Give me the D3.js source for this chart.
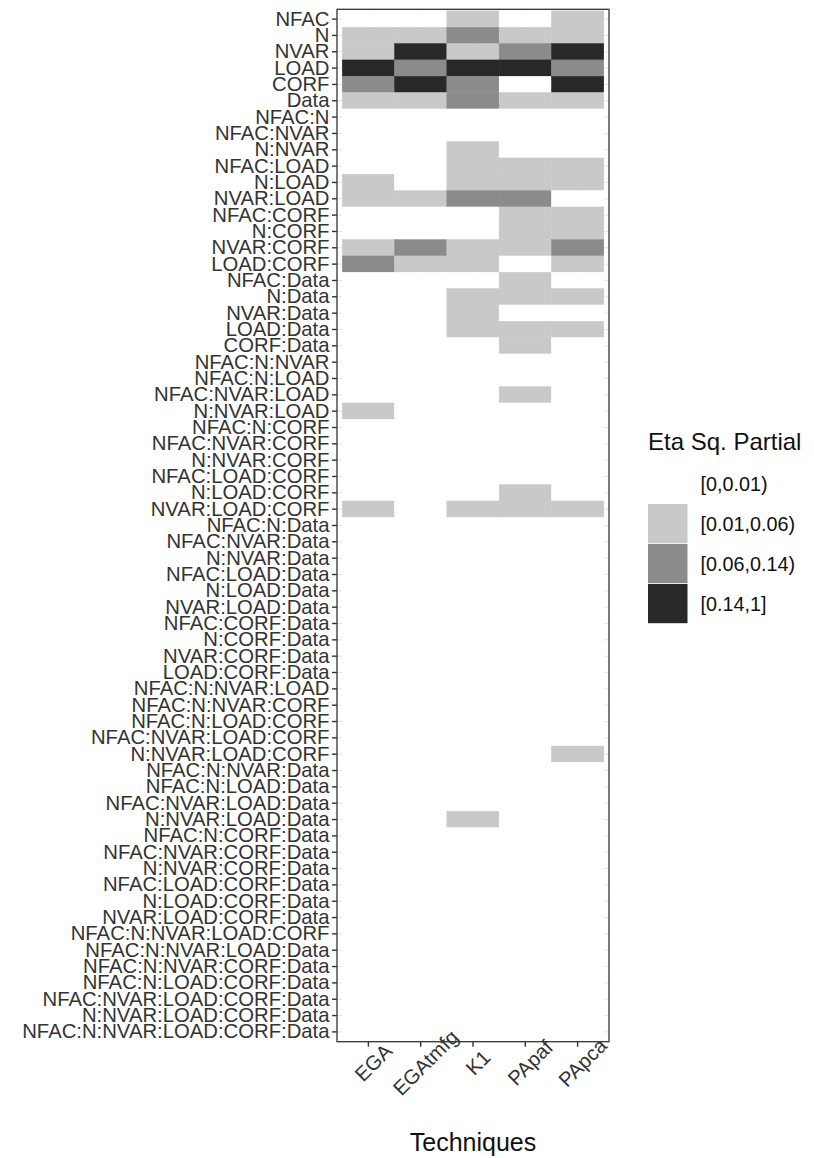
<!DOCTYPE html>
<html>
<head>
<meta charset="utf-8">
<script src="https://cdn.jsdelivr.net/npm/d3@7"></script>
<style>
  body { margin: 0; background: #fff; }
  svg { display: block; font-family: "Liberation Sans", Arial, sans-serif; }
</style>
</head>
<body>
<svg id="chart" width="814" height="1158"></svg>
<script>
// terms of the anova, top to bottom
const terms = [
  "NFAC", "N", "NVAR", "LOAD", "CORF", "Data",
  "NFAC:N", "NFAC:NVAR", "N:NVAR", "NFAC:LOAD", "N:LOAD", "NVAR:LOAD",
  "NFAC:CORF", "N:CORF", "NVAR:CORF", "LOAD:CORF",
  "NFAC:Data", "N:Data", "NVAR:Data", "LOAD:Data", "CORF:Data",
  "NFAC:N:NVAR", "NFAC:N:LOAD", "NFAC:NVAR:LOAD", "N:NVAR:LOAD",
  "NFAC:N:CORF", "NFAC:NVAR:CORF", "N:NVAR:CORF", "NFAC:LOAD:CORF",
  "N:LOAD:CORF", "NVAR:LOAD:CORF",
  "NFAC:N:Data", "NFAC:NVAR:Data", "N:NVAR:Data", "NFAC:LOAD:Data",
  "N:LOAD:Data", "NVAR:LOAD:Data", "NFAC:CORF:Data", "N:CORF:Data",
  "NVAR:CORF:Data", "LOAD:CORF:Data",
  "NFAC:N:NVAR:LOAD", "NFAC:N:NVAR:CORF", "NFAC:N:LOAD:CORF",
  "NFAC:NVAR:LOAD:CORF", "N:NVAR:LOAD:CORF",
  "NFAC:N:NVAR:Data", "NFAC:N:LOAD:Data", "NFAC:NVAR:LOAD:Data",
  "N:NVAR:LOAD:Data", "NFAC:N:CORF:Data", "NFAC:NVAR:CORF:Data",
  "N:NVAR:CORF:Data", "NFAC:LOAD:CORF:Data", "N:LOAD:CORF:Data",
  "NVAR:LOAD:CORF:Data", "NFAC:N:NVAR:LOAD:CORF", "NFAC:N:NVAR:LOAD:Data",
  "NFAC:N:NVAR:CORF:Data", "NFAC:N:LOAD:CORF:Data", "NFAC:NVAR:LOAD:CORF:Data",
  "N:NVAR:LOAD:CORF:Data", "NFAC:N:NVAR:LOAD:CORF:Data"
];

const techniques = ["EGA", "EGAtmfg", "K1", "PApaf", "PApca"];

const levels = ["[0,0.01)", "[0.01,0.06)", "[0.06,0.14)", "[0.14,1]"];

// effect size class (index into levels) for each term, per technique
const EGA = [
  0,1,1,3,2,1, 0,0,0,0,1,1, 0,0,1,2, 0,0,0,0,0,
  0,0,0,1, 0,0,0,0,0,1,
  0,0,0,0,0,0,0,0,0,0,
  0,0,0,0,0,
  0,0,0,0,0,0,0,0,0,0,
  0,0,0,0,0,0,0
];
const EGAtmfg = [
  0,1,3,2,3,1, 0,0,0,0,0,1, 0,0,2,1, 0,0,0,0,0,
  0,0,0,0, 0,0,0,0,0,0,
  0,0,0,0,0,0,0,0,0,0,
  0,0,0,0,0,
  0,0,0,0,0,0,0,0,0,0,
  0,0,0,0,0,0,0
];
const K1 = [
  1,2,1,3,2,2, 0,0,1,1,1,2, 0,0,1,1, 0,1,1,1,0,
  0,0,0,0, 0,0,0,0,0,1,
  0,0,0,0,0,0,0,0,0,0,
  0,0,0,0,0,
  0,0,0,1,0,0,0,0,0,0,
  0,0,0,0,0,0,0
];
const PApaf = [
  0,1,2,3,0,1, 0,0,0,1,1,2, 1,1,1,0, 1,1,0,1,1,
  0,0,1,0, 0,0,0,0,1,1,
  0,0,0,0,0,0,0,0,0,0,
  0,0,0,0,0,
  0,0,0,0,0,0,0,0,0,0,
  0,0,0,0,0,0,0
];
const PApca = [
  1,1,3,2,3,1, 0,0,0,1,1,0, 1,1,2,1, 0,1,0,1,0,
  0,0,0,0, 0,0,0,0,0,1,
  0,0,0,0,0,0,0,0,0,0,
  0,0,0,0,1,
  0,0,0,0,0,0,0,0,0,0,
  0,0,0,0,0,0,0
];

const fills = ["#ffffff", "#c9c9c9", "#8b8b8b", "#282828"];

const seriesByTech = { EGA, EGAtmfg, K1, PApaf, PApca };

const cells = [];
techniques.forEach(t => {
  seriesByTech[t].forEach((v, i) => cells.push({ tech: t, term: terms[i], level: levels[v] }));
});

const svg = d3.select("#chart");

const panel = { left: 337, right: 609, top: 9.3, bottom: 1041.7 };
const axisFont = "20.3px";
const axisColor = "#333";

const x = d3.scaleBand()
  .domain(techniques)
  .range([panel.left, panel.right])
  .paddingInner(0)
  .paddingOuter(0.1);

const y = d3.scaleBand()
  .domain(terms)
  .range([panel.top, panel.bottom])
  .paddingInner(0)
  .paddingOuter(0.1);

const color = d3.scaleOrdinal().domain(levels).range(fills);

// grid lines (only the bits at the panel edges end up visible)
const grid = svg.append("g");
grid.selectAll("line.h").data(terms).enter().append("line")
  .attr("x1", panel.left).attr("x2", panel.right)
  .attr("y1", d => y(d) + y.bandwidth() / 2)
  .attr("y2", d => y(d) + y.bandwidth() / 2)
  .attr("stroke", "#e6e6e6").attr("stroke-width", 1);
grid.selectAll("line.v").data(techniques).enter().append("line")
  .attr("y1", panel.top).attr("y2", panel.bottom)
  .attr("x1", d => x(d) + x.bandwidth() / 2)
  .attr("x2", d => x(d) + x.bandwidth() / 2)
  .attr("stroke", "#e6e6e6").attr("stroke-width", 1);

// tiles (stroke in the same colour hides the anti-aliasing seams)
svg.append("g").selectAll("rect").data(cells).enter().append("rect")
  .attr("x", d => x(d.tech))
  .attr("y", d => y(d.term))
  .attr("width", x.bandwidth())
  .attr("height", y.bandwidth())
  .attr("fill", d => color(d.level))
  .attr("stroke", d => color(d.level))
  .attr("stroke-width", 0.5);

// panel border
svg.append("rect")
  .attr("x", panel.left).attr("y", panel.top)
  .attr("width", panel.right - panel.left)
  .attr("height", panel.bottom - panel.top)
  .attr("fill", "none").attr("stroke", "#333").attr("stroke-width", 1.3);

// y axis
const yAxis = svg.append("g")
  .attr("transform", "translate(" + panel.left + ",0)")
  .call(d3.axisLeft(y).tickSize(5).tickPadding(2.5));
yAxis.select(".domain").remove();
yAxis.selectAll(".tick line").attr("stroke", "#333").attr("stroke-width", 1.4);
yAxis.selectAll(".tick text")
  .style("font-size", axisFont)
  .attr("fill", axisColor)
  .attr("font-family", "Liberation Sans, Arial, sans-serif");

// x axis
const xAxis = svg.append("g")
  .attr("transform", "translate(0," + panel.bottom + ")")
  .call(d3.axisBottom(x).tickSize(5).tickFormat(""));
xAxis.select(".domain").remove();
xAxis.selectAll(".tick line").attr("stroke", "#333").attr("stroke-width", 1.4);

svg.append("g").selectAll("text").data(techniques).enter().append("text")
  .attr("transform", d => "translate(" + (x(d) + x.bandwidth() / 2 + 5) + "," + (panel.bottom + 21) + ") rotate(-45)")
  .attr("text-anchor", "middle")
  .attr("dominant-baseline", "central")
  .style("font-size", axisFont)
  .attr("fill", axisColor)
  .text(d => d);

// x title
svg.append("text")
  .attr("x", (panel.left + panel.right) / 2)
  .attr("y", 1150.5)
  .attr("text-anchor", "middle")
  .style("font-size", "25px")
  .attr("fill", "#111")
  .text("Techniques");

// legend
const legend = svg.append("g");
legend.append("text")
  .attr("x", 648).attr("y", 450)
  .style("font-size", "24px")
  .attr("fill", "#111")
  .text("Eta Sq. Partial");

const keyH = 40, keyW = 39.5, keyTop = 464;
legend.selectAll("rect").data(levels).enter().append("rect")
  .attr("x", 648)
  .attr("y", (d, i) => keyTop + i * keyH)
  .attr("width", keyW)
  .attr("height", keyH - 0.8)
  .attr("fill", d => color(d));

legend.selectAll("text.lab").data(levels).enter().append("text")
  .attr("class", "lab")
  .attr("x", 700.5)
  .attr("y", (d, i) => keyTop + i * keyH + keyH / 2)
  .attr("dominant-baseline", "central")
  .style("font-size", "19.8px")
  .attr("fill", "#111")
  .text(d => d);
</script>
</body>
</html>
